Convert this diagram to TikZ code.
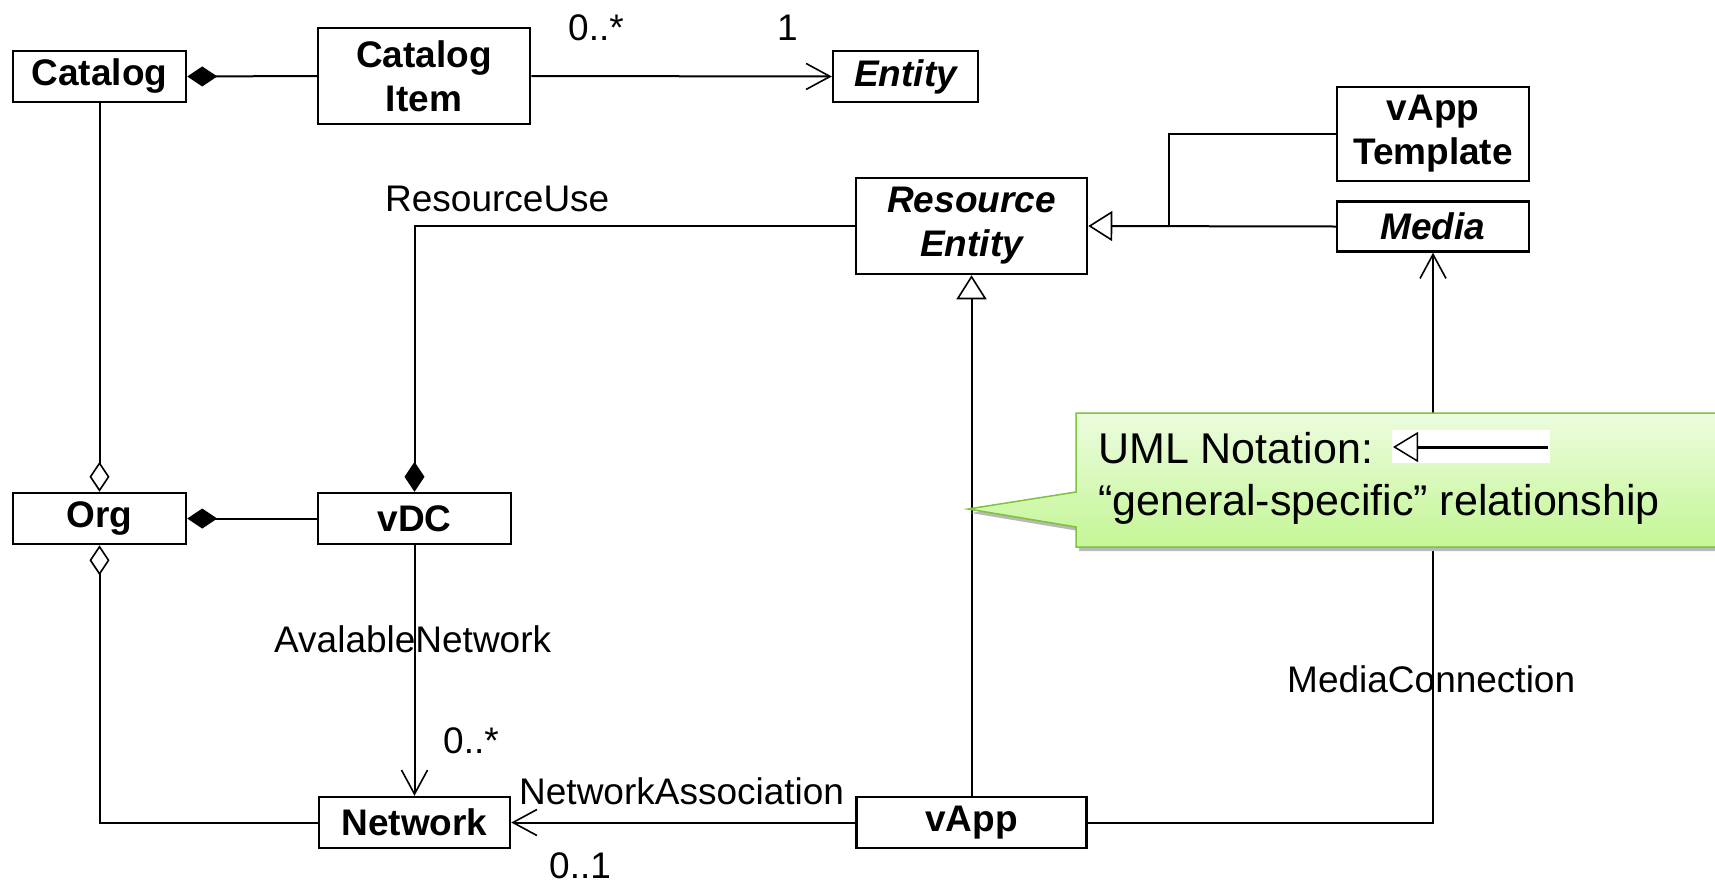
\documentclass[tikz,border=0pt]{standalone}
\usepackage{fontspec}
\setmainfont{Liberation Sans}
\usetikzlibrary{arrows.meta}
\definecolor{calloutTop}{RGB}{236,252,222}
\definecolor{calloutBot}{RGB}{196,246,150}
\definecolor{calloutLine}{RGB}{125,195,60}
\begin{document}
\begin{tikzpicture}[x=1pt,y=-1pt,
  cls/.style={draw, line width=2.5pt, fill=white, inner sep=0pt, align=center, font=\bfseries\fontsize{37}{44}\selectfont},
  abs/.style={cls, font=\bfseries\itshape\fontsize{37}{44}\selectfont},
  lbl/.style={inner sep=0pt, anchor=base west, font=\fontsize{37}{44}\selectfont},
  conn/.style={line width=2pt},
  nav/.style={conn, -{Straight Barb[length=24pt, width=26pt, line width=1.6pt]}},
  comp/.style={conn, {Diamond[length=30pt, width=20pt]}-},
  compend/.style={conn, -{Diamond[length=30pt, width=20pt]}},
  aggr/.style={conn, {Diamond[open, fill=white, length=30pt, width=20pt, line width=1.6pt]}-},
  aggrend/.style={conn, -{Diamond[open, fill=white, length=30pt, width=20pt, line width=1.6pt]}},
  gen/.style={conn, -{Triangle[open, fill=white, length=24pt, width=30pt, line width=1.6pt]}},
]
\useasboundingbox (0,0) rectangle (1715,884);

% classes
\node[cls, minimum width=173pt, minimum height=51pt] (cat) at (99.5,76.5) {Catalog};
\node[cls, minimum width=212pt, minimum height=96pt] (item) at (424,76) {Catalog\\Item};
\node[abs, minimum width=145pt, minimum height=51pt] (ent) at (905.5,76.5) {Entity};
\node[cls, minimum width=192pt, minimum height=94pt] (tmpl) at (1433,134) {vApp\\Template};
\node[abs, minimum width=192pt, minimum height=50pt] (media) at (1433,226.5) {Media};
\node[abs, minimum width=231pt, minimum height=96pt] (res) at (971.5,226) {Resource\\Entity};
\node[cls, minimum width=173pt, minimum height=51pt] (org) at (99.5,518.5) {Org};
\node[cls, minimum width=193pt, minimum height=51pt] (vdc) at (414.5,518.5) {vDC};
\node[cls, minimum width=191pt, minimum height=51pt] (net) at (414.5,822.5) {Network};
\node[cls, minimum width=230pt, minimum height=51pt] (vapp) at (971.5,822.5) {vApp};
\coordinate (br) at (1169,226);

% connectors
\draw[comp] (cat.east) -- (item.west);
\draw[nav] (item.east) -- (ent.west);
\draw[aggrend] (cat.south) -- (org.north);
\draw[comp] (org.east) -- (vdc.west);
\draw[compend] (res.west) -| (vdc.north);
\draw[aggr] (org.south) |- (net.west);
\draw[nav] (vdc.south) -- (net.north);
\draw[nav] (vapp.west) -- (net.east);
\draw[gen] (vapp.north) -- (res.south);
\draw[nav] (vapp.east) -| (media.south);
\draw[gen] (media.west) -- (res.east);
\draw[conn] (tmpl.west) -| (br);

% labels
\node[lbl] (m1) at (568,40) {0..*};
\node[lbl] (m2) at (777,40) {1};
\node[lbl] (l1) at (385,211) {ResourceUse};
\node[lbl] (l2) at (274,652) {AvalableNetwork};
\node[lbl] (m3) at (443,753) {0..*};
\node[lbl] (l3) at (519,804) {NetworkAssociation};
\node[lbl] (m4) at (549,878) {0..1};
\node[lbl] (l4) at (1287,692) {MediaConnection};

% callout
\begin{scope}
\clip (0,0) rectangle (1715,884);
\fill[gray!55, shift={(3,4)}] (1076,413) -- (1730,413) -- (1730,547) -- (1076,547) -- (1076,527) -- (968,509) -- (1076,492) -- cycle;
\path[draw=calloutLine, line width=1.5pt, top color=calloutTop, bottom color=calloutBot]
  (1076,413) -- (1730,413) -- (1730,547) -- (1076,547) -- (1076,527) -- (968,509) -- (1076,492) -- cycle;
\end{scope}
\fill[white] (1392,430) rectangle (1550,463);
\draw[line width=3pt, -{Triangle[open, fill=white, length=25pt, width=30pt, line width=1.5pt]}] (1548,447) -- (1393,447);
\node[inner sep=0pt, anchor=base west, font=\fontsize{43}{50}\selectfont] (note1) at (1098,463) {UML Notation:};
\node[inner sep=0pt, anchor=base west, font=\fontsize{43}{50}\selectfont] (note2) at (1098,515) {“general-specific” relationship};
\end{tikzpicture}
\end{document}
